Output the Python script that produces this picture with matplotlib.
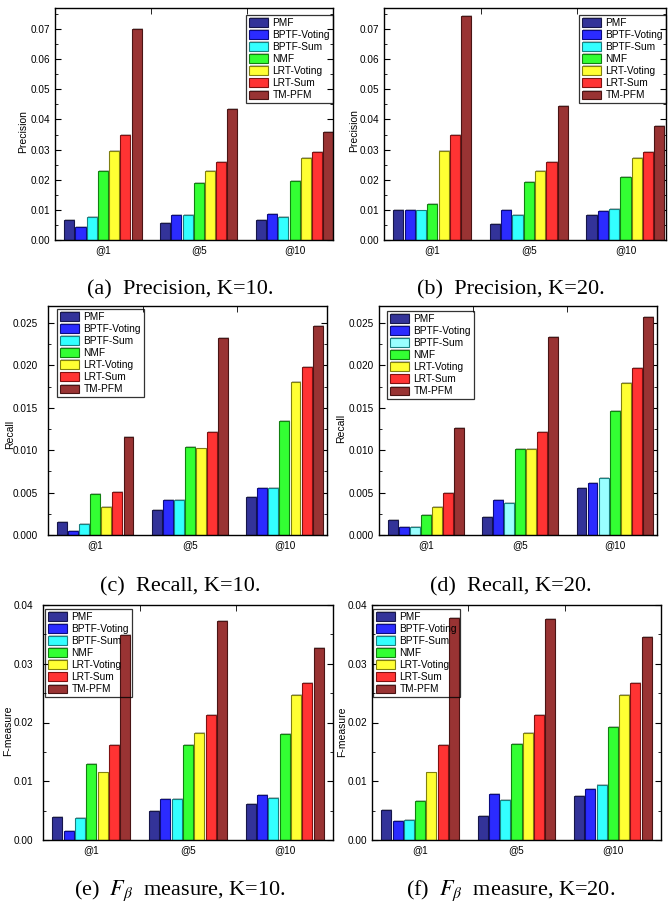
import numpy as np
import matplotlib
matplotlib.use("Agg")
import matplotlib.pyplot as plt
from matplotlib.ticker import MultipleLocator, FormatStrFormatter, FixedLocator
import matplotlib.patheffects as pe

plt.rcParams['font.family'] = ['Liberation Sans', 'DejaVu Sans']
plt.rcParams['mathtext.fontset'] = 'stix'

methods = ['PMF', 'BPTF-Voting', 'BPTF-Sum', 'NMF', 'LRT-Voting', 'LRT-Sum', 'TM-PFM']
groups = ['@1', '@5', '@10']
colors = ['#333399', '#2b2bff', '#33ffff', '#33ff33', '#ffff33', '#ff3333', '#993333']
edges = ['#16164a', '#0b0b80', '#1a8080', '#118011', '#808011', '#801111', '#4a1414']

# values per method, one entry per group (@1, @5, @10)
prec_k10 = [[0.0066, 0.0057, 0.0066],
            [0.0042, 0.0083, 0.0086],
            [0.0076, 0.0083, 0.0077],
            [0.0229, 0.0189, 0.0196],
            [0.0295, 0.0228, 0.0271],
            [0.0350, 0.0258, 0.0293],
            [0.0701, 0.0436, 0.0357]]
prec_k20 = [[0.0099, 0.0053, 0.0083],
            [0.0099, 0.0100, 0.0096],
            [0.0098, 0.0083, 0.0102],
            [0.0120, 0.0192, 0.0208],
            [0.0295, 0.0228, 0.0271],
            [0.0350, 0.0258, 0.0293],
            [0.0745, 0.0444, 0.0380]]
rec_k10 = [[0.00157, 0.0030, 0.00447],
           [0.00047, 0.00408, 0.0056],
           [0.00125, 0.00408, 0.00557],
           [0.00478, 0.01035, 0.01345],
           [0.00333, 0.0102, 0.0180],
           [0.0051, 0.0122, 0.0198],
           [0.0116, 0.02325, 0.02467]]
rec_k20 = [[0.00173, 0.00208, 0.00549],
           [0.0009, 0.00408, 0.00608],
           [0.0009, 0.00376, 0.0067],
           [0.00235, 0.01016, 0.01467],
           [0.0033, 0.0101, 0.01788],
           [0.0050, 0.0122, 0.01973],
           [0.01267, 0.0234, 0.0257]]
fm_k10 = [[0.0040, 0.00497, 0.00611],
          [0.00154, 0.00697, 0.00771],
          [0.00371, 0.00697, 0.0072],
          [0.01297, 0.01623, 0.018],
          [0.01149, 0.01829, 0.02463],
          [0.01611, 0.0212, 0.02669],
          [0.0349, 0.0372, 0.03269]]
fm_k20 = [[0.00509, 0.00406, 0.00749],
          [0.00331, 0.00783, 0.00869],
          [0.00337, 0.0068, 0.00937],
          [0.00663, 0.01629, 0.01926],
          [0.01149, 0.01829, 0.02463],
          [0.01611, 0.0212, 0.02669],
          [0.03783, 0.03766, 0.03457]]

W, H = 668, 907
fig = plt.figure(figsize=(W / 100, H / 100), dpi=100)

# (data, ylabel, ymax, major, fmt, caption, axes px box [x0, x1, ytop, ybot],
#  xmax, legend loc, legend offset px, tick pad, ylabel centre px (x, y frac))
panels = [
    (prec_k10, 'Precision', 0.077, 0.01, '%.2f', '(a)  Precision, K=10.', [55, 333, 8, 240], 3.4, 'upper right', (0, -7), 3.5, (23, 0.466)),
    (prec_k20, 'Precision', 0.077, 0.01, '%.2f', '(b)  Precision, K=20.', [384, 666, 8, 240], 3.42, 'upper right', (0, -7), 3.5, (354, 0.47)),
    (rec_k10, 'Recall', 0.027, 0.005, '%.3f', '(c)  Recall, K=10.', [48, 327, 306, 535], 3.45, 'upper left', (9, -3), 7.5, (10, 0.437)),
    (rec_k20, 'Recall', 0.027, 0.005, '%.3f', '(d)  Recall, K=20.', [379, 657, 306, 535], 3.45, 'upper left', (8, -5), 3.5, (341, 0.467)),
    (fm_k10, 'F-measure', 0.04, 0.01, '%.2f', r'(e)  $F_\beta$  measure, K=10.', [43, 333, 605, 840], 3.5, 'upper left', (2, -4), 7.0, (8, 0.464)),
    (fm_k20, 'F-measure', 0.04, 0.01, '%.2f', r'(f)  $F_\beta$  measure, K=20.', [372, 661, 605, 840], 3.5, 'upper left', (1, -4), 3.5, (342, 0.46)),
]
caption_y = [290, 290, 587, 587, 891, 891]
caption_x = [180, 511, 180, 511, 180, 511]

x = np.arange(1, len(groups) + 1)
pitch = 0.117
bw = 0.105

for k, (data, ylab, ymax, major, fmt, cap, box, xmax, loc, off, pad, ylpos) in enumerate(panels):
    x0, x1, yt, yb = box
    ax = fig.add_axes([x0 / W, 1 - yb / H, (x1 - x0) / W, (yb - yt) / H])
    cols = list(colors)
    if k == 3:
        cols[2] = '#99ffff'
    for i, m in enumerate(methods):
        ax.bar(x + (i - 3) * pitch, data[i], bw, color=cols[i], edgecolor=edges[i],
               linewidth=0.8, label=m, zorder=2,
               path_effects=[pe.SimplePatchShadow(offset=(0.7, 0.7), shadow_rgbFace='#888888', alpha=0.5), pe.Normal()])
    ax.set_xlim(0.5, xmax)
    ax.set_ylim(0, ymax)
    ax.set_xticks(x)
    ax.set_xticklabels(groups)
    ax.xaxis.set_minor_locator(FixedLocator([1.5, 2.5]))
    ax.tick_params(axis='x', which='major', length=0, pad=4, labelsize=7.2)
    ax.tick_params(axis='x', which='minor', direction='in', length=4, top=True, bottom=False)
    ax.yaxis.set_major_locator(MultipleLocator(major))
    ax.yaxis.set_minor_locator(MultipleLocator(major / 2))
    ax.yaxis.set_major_formatter(FormatStrFormatter(fmt))
    ax.tick_params(axis='y', which='major', direction='in', length=4, right=True, pad=pad, labelsize=7.2)
    ax.tick_params(axis='y', which='minor', direction='in', length=2, right=True)
    for s in ax.spines.values():
        s.set_linewidth(1.0)
    ax.set_ylabel(ylab, fontsize=7.5)
    ax.yaxis.set_label_coords((ylpos[0] + 5 - x0) / (x1 - x0), ylpos[1])

    ax_w, ax_h = x1 - x0, yb - yt
    if loc == 'upper right':
        anchor = (1 + off[0] / ax_w, 1 + off[1] / ax_h)
    else:
        anchor = (off[0] / ax_w, 1 + off[1] / ax_h)
    leg = ax.legend(loc=loc, bbox_to_anchor=anchor, borderaxespad=0, fontsize=7.3,
                    handlelength=1.9, handleheight=0.9, labelspacing=0.2,
                    handletextpad=0.4, borderpad=0.3, fancybox=False,
                    edgecolor='black', facecolor='none', framealpha=None)
    leg.get_frame().set_linewidth(0.9)
    leg.set_zorder(5)

    fig.text(caption_x[k] / W, 1 - caption_y[k] / H, cap, ha='center', va='center',
             fontsize=16, family='Liberation Serif')

fig.savefig('out.png', dpi=100)
